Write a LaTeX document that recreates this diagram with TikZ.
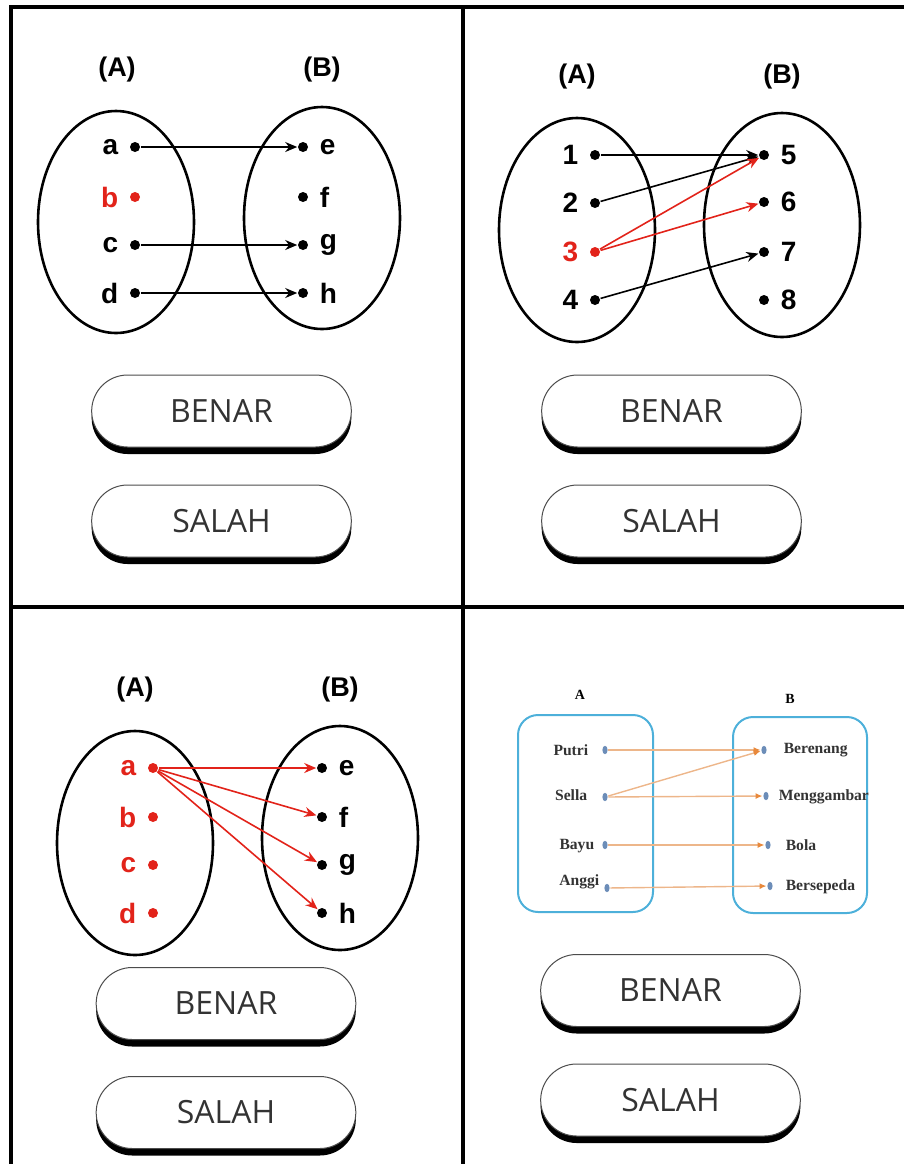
\documentclass[tikz,border=0pt]{standalone}
\usepackage{fontspec}
\setmainfont{Liberation Sans}
\newfontfamily\btnfont{Open Sans}
\newfontfamily\serfont{Liberation Serif}
\usetikzlibrary{arrows.meta,shapes.misc,shapes.geometric,shadows}
\definecolor{redmark}{HTML}{E2231A}
\definecolor{setblue}{HTML}{4DB0DA}
\definecolor{ptblue}{HTML}{6C8DB8}
\definecolor{linkorange}{HTML}{EDB68A}
\definecolor{tiporange}{HTML}{E8893C}
\definecolor{btngray}{HTML}{333333}
\tikzset{
 dot/.style={circle,fill,inner sep=0pt,minimum size=5pt},
 el/.style={font=\bfseries\fontsize{14}{16}\selectfont},
 hd/.style={font=\bfseries\fontsize{13.5}{16}\selectfont},
 lft/.style={label={[el,label distance=1.8pt]left:#1}},
 rgt/.style={label={[el,label distance=1.8pt]right:#1}},
 lftred/.style={redmark,label={[el,text=redmark,label distance=1.8pt]left:#1}},
 btn/.style={rounded rectangle,draw=gray!60!black,line width=0.5pt,fill=white,
  minimum width=136.5pt,minimum height=36pt,text=btngray,
  font=\btnfont\fontsize{16}{18}\selectfont,
  drop shadow={shadow xshift=0pt,shadow yshift=-3.5pt,fill=black,opacity=1}},
 sdot/.style={ellipse,fill=ptblue,inner sep=0pt,minimum width=2.6pt,minimum height=4.2pt},
 nm/.style={font=\serfont\bfseries\fontsize{7.8}{9}\selectfont,text=btngray,inner sep=0pt},
 link/.style={linkorange,line width=0.7pt,-{Latex[length=3.5pt,width=3pt,color=tiporange]}}
}
\begin{document}
\begin{tikzpicture}[x=0.5pt,y=-0.5pt,>={Stealth[length=6pt,width=5pt]},line width=0.8pt]
\useasboundingbox (0,0) rectangle (904,1164);
\draw[line width=1.6pt] (11,1164)--(11,7)--(904,7) (463,7)--(463,1164) (11,607)--(904,607);
% kiri atas
\node[hd] (ha1) at (117,70) {(A)};
\node[hd] (hb1) at (322,70) {(B)};
\draw[line width=1.3pt] (116,222) ellipse [x radius=78,y radius=111];
\draw[line width=1.3pt] (322,218) ellipse [x radius=78,y radius=111];
\node[dot,lft=a] (a1) at (135,147) {};
\node[dot,lftred=b] (b1) at (135,197) {};
\node[dot,lft=c] (c1) at (135,245) {};
\node[dot,lft=d] (d1) at (135,293) {};
\node[dot,rgt=e] (e1) at (303,147) {};
\node[dot,rgt=f] (f1) at (303,197) {};
\node[dot,rgt=g] (g1) at (303,245) {};
\node[dot,rgt=h] (h1) at (303,293) {};
\draw[->] (a1)--(e1);
\draw[->] (c1)--(g1);
\draw[->] (d1)--(h1);
\node[btn] (benar1) at (221.5,411) {BENAR};
\node[btn] (salah1) at (221.5,521) {SALAH};
% kanan atas
\node[hd] (ha2) at (577,77) {(A)};
\node[hd] (hb2) at (782,77) {(B)};
\draw[line width=1.3pt] (577,230) ellipse [x radius=78,y radius=112];
\draw[line width=1.3pt] (782,225) ellipse [x radius=78,y radius=112];
\node[dot,lft=1] (n1) at (595,155) {};
\node[dot,lft=2] (n2) at (595,203) {};
\node[dot,lftred=3] (n3) at (595,252) {};
\node[dot,lft=4] (n4) at (595,300) {};
\node[dot,rgt=5] (n5) at (764,155) {};
\node[dot,rgt=6] (n6) at (764,202) {};
\node[dot,rgt=7] (n7) at (764,252) {};
\node[dot,rgt=8] (n8) at (764,300) {};
\draw[->] (n1)--(n5);
\draw[->] (n2)--(n5);
\draw[->] (n4)--(n7);
\draw[->,redmark] (n3)--(n5);
\draw[->,redmark] (n3)--(n6);
\node[btn] (benar2) at (671.5,411) {BENAR};
\node[btn] (salah2) at (671.5,521) {SALAH};
% kiri bawah
\node[hd] (ha3) at (135,690) {(A)};
\node[hd] (hb3) at (340,690) {(B)};
\draw[line width=1.3pt] (135,843) ellipse [x radius=78,y radius=112];
\draw[line width=1.3pt] (340,838) ellipse [x radius=78,y radius=112];
\node[dot,lftred=a] (a3) at (153,768) {};
\node[dot,lftred=b] (b3) at (153,817) {};
\node[dot,lftred=c] (c3) at (153,865) {};
\node[dot,lftred=d] (d3) at (153,913) {};
\node[dot,rgt=e] (e3) at (322,768) {};
\node[dot,rgt=f] (f3) at (322,817) {};
\node[dot,rgt=g] (g3) at (322,865) {};
\node[dot,rgt=h] (h3) at (322,913) {};
\foreach \t in {e3,f3,g3,h3} \draw[->,redmark] (a3)--(\t);
\node[btn] (benar3) at (226,1003.5) {BENAR};
\node[btn] (salah3) at (226,1112.5) {SALAH};
% kanan bawah
\node[nm,text=black,font=\serfont\bfseries\fontsize{7}{8}\selectfont] (ha4) at (580,695) {A};
\node[nm,text=black,font=\serfont\bfseries\fontsize{7}{8}\selectfont] (hb4) at (790,699) {B};
\draw[setblue,line width=1pt,rounded corners=10pt] (518,715) rectangle (653,912);
\draw[setblue,line width=1pt,rounded corners=10pt] (733,717) rectangle (867,913);
\node[sdot] (pu) at (605,750) {};
\node[sdot] (se) at (605,797) {};
\node[sdot] (ba) at (605,845) {};
\node[sdot] (an) at (607,888) {};
\node[sdot] (br) at (764,750) {};
\node[sdot] (mg) at (766,796) {};
\node[sdot] (bo) at (768,845) {};
\node[sdot] (bs) at (770,886) {};
\node[nm,anchor=east] (tpu) at (589,750) {Putri};
\node[nm,anchor=east] (tse) at (588,795) {Sella};
\node[nm,anchor=east] (tba) at (595,846) {Bayu};
\node[nm,anchor=east] (tan) at (600,882) {Anggi};
\node[nm,anchor=west] (tbr) at (783,750) {Berenang};
\node[nm,anchor=west] (tmg) at (778,797) {Menggambar};
\node[nm,anchor=west] (tbo) at (785,845) {Bola};
\node[nm,anchor=west] (tbs) at (785,887) {Bersepeda};
\draw[link] (pu)--(br);
\draw[link] (se)--(br);
\draw[link] (se)--(mg);
\draw[link] (ba)--(bo);
\draw[link] (an)--(bs);
\node[btn] (benar4) at (670.5,990.5) {BENAR};
\node[btn] (salah4) at (670.5,1100) {SALAH};
\end{tikzpicture}
\end{document}
